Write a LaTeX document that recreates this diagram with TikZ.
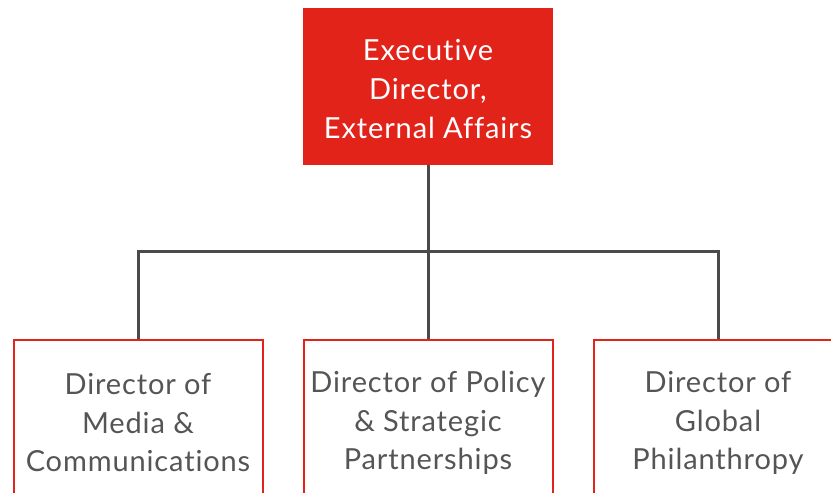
\documentclass[tikz,border=0pt]{standalone}
\usepackage{fontspec}
\setmainfont{Lato}[Ligatures={NoCommon}, LetterSpace=3]
\definecolor{boxred}{HTML}{E2231A}
\definecolor{linegrey}{HTML}{4A4A4A}
\definecolor{textgrey}{HTML}{555555}
\begin{document}
\begin{tikzpicture}[x=1pt,y=1pt,
  topbox/.style={rectangle, fill=boxred, draw=none, minimum width=250pt, minimum height=157pt,
    text=white, align=center, font=\fontsize{29}{39}\selectfont, inner sep=0pt},
  subbox/.style={rectangle, draw=boxred, line width=2pt, fill=white, minimum width=249pt, minimum height=162pt,
    text=textgrey, align=center, font=\fontsize{29}{38.5}\selectfont, inner sep=0pt},
  conn/.style={draw=linegrey, line width=3pt}]
\useasboundingbox (0,0) rectangle (831,493);
\clip (0,0) rectangle (831,493);
\node[topbox] (exec) at (428,406.5) {};
\node[text=white, align=center, font=\fontsize{29}{39}\selectfont, inner sep=0pt] (exect) at (428,403.5) {Executive\\Director,\\External Affairs};
\node[subbox] (m1) at (138,72) {};
\node[subbox] (m2) at (428,72) {};
\node[subbox] (m3) at (718,72) {};
\node[text=textgrey, align=center, font=\fontsize{29}{38.5}\selectfont, inner sep=0pt] (t1) at (138,70) {Director of\\Media \&\\Communications};
\node[text=textgrey, align=center, font=\fontsize{29}{38.5}\selectfont, inner sep=0pt] (t2) at (428,70) {Director of Policy\\\& Strategic\\Partnerships};
\node[text=textgrey, align=center, font=\fontsize{29}{38.5}\selectfont, inner sep=0pt] (t3) at (718,70) {Director of\\Global\\Philanthropy};
\coordinate (bus) at (428,241);
\draw[conn] (exec.south) -- (m2.north);
\draw[conn] (m1.north) -- (m1.north |- bus) -- (m3.north |- bus) -- (m3.north);
\end{tikzpicture}
\end{document}
